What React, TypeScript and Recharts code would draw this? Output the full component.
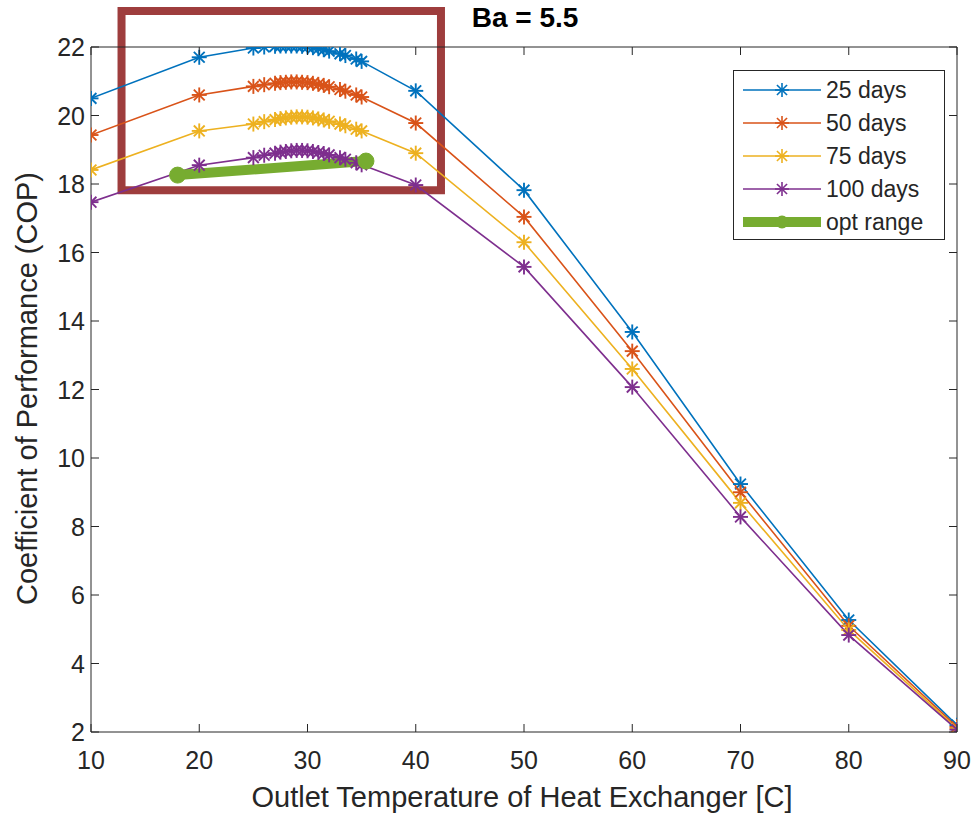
import React from 'react';
import { LineChart, Line, XAxis, YAxis, ReferenceArea, Legend } from 'recharts';

// ---------- data ----------
const temps = [10, 20, 25, 26, 27, 27.5, 28, 28.5, 29, 29.5, 30, 30.5, 31, 31.5, 32, 33, 33.5, 34.5, 35, 40, 50, 60, 70, 80, 90];
const cop25 = [20.5, 21.7, 21.97, 22.0, 22.02, 22.03, 22.03, 22.03, 22.03, 22.02, 22.0, 21.98, 21.95, 21.92, 21.88, 21.8, 21.75, 21.65, 21.58, 20.72, 17.82, 13.68, 9.24, 5.27, 2.2];
const cop50 = [19.43, 20.6, 20.85, 20.9, 20.94, 20.96, 20.97, 20.98, 20.98, 20.97, 20.96, 20.94, 20.91, 20.88, 20.84, 20.76, 20.71, 20.6, 20.54, 19.78, 17.04, 13.12, 9.0, 5.1, 2.15];
const cop75 = [18.41, 19.55, 19.75, 19.82, 19.88, 19.91, 19.93, 19.95, 19.96, 19.96, 19.95, 19.93, 19.9, 19.87, 19.83, 19.75, 19.7, 19.6, 19.55, 18.9, 16.3, 12.6, 8.69, 4.98, 2.1];
const cop100 = [17.47, 18.55, 18.77, 18.84, 18.9, 18.93, 18.95, 18.97, 18.98, 18.98, 18.97, 18.95, 18.92, 18.89, 18.85, 18.77, 18.72, 18.62, 18.56, 17.97, 15.58, 12.07, 8.28, 4.83, 2.07];
const optTemps = [18, 35.4];
const optCop = [18.26, 18.67];
const xTicks = [10, 20, 30, 40, 50, 60, 70, 80, 90];
const yTicks = [2, 4, 6, 8, 10, 12, 14, 16, 18, 20, 22];
const seriesNames = ['25 days', '50 days', '75 days', '100 days', 'opt range'];
const seriesKeys = ['c25', 'c50', 'c75', 'c100'];
const highlightBox = { x1: 12.82, x2: 42.33, y1: 17.82, y2: 23.05 };
const titleText = 'Ba = 5.5';
const xLabel = 'Outlet Temperature of Heat Exchanger [C]';
const yLabel = 'Coefficient of Performance (COP)';

const rows = temps.map((t, i) => ({ t, c25: cop25[i], c50: cop50[i], c75: cop75[i], c100: cop100[i] }));
const optRows = optTemps.map((t, i) => ({ t, opt: optCop[i] }));

// ---------- style ----------
const W = 977;
const H = 823;
const PLOT = { left: 91, right: 957, top: 47, bottom: 732 };
const Y_W = 60;
const X_H = 30;
const M = { top: PLOT.top - 1, right: W - PLOT.right - 1, bottom: H - PLOT.bottom - X_H, left: PLOT.left - Y_W };
const INK = '#262626';
const FONT = '"Liberation Sans", Arial, Helvetica, sans-serif';
const COLORS = ['#0072BD', '#D95319', '#EDB120', '#7E2F8E', '#77AC30'];
const BOX_COLOR = '#9E3D3D';
const TICK_FS = 25;
const LABEL_FS = 29;
const TITLE_FS = 28;
const TICK_LEN = 8;

function Asterisk({ cx, cy, color, r = 7.5, sw = 1.9 }: any) {
  const d = r * 0.72;
  return (
    <g stroke={color} strokeWidth={sw}>
      <line x1={cx - r} y1={cy} x2={cx + r} y2={cy} />
      <line x1={cx} y1={cy - r} x2={cx} y2={cy + r} />
      <line x1={cx - d} y1={cy - d} x2={cx + d} y2={cy + d} />
      <line x1={cx - d} y1={cy + d} x2={cx + d} y2={cy - d} />
    </g>
  );
}

const makeDot = (color: string, name: string) => (p: any) => {
  if (p.cx == null || p.cy == null) return <g key={`${name}-${p.index}`} />;
  return <Asterisk key={`${name}-${p.index}`} cx={p.cx} cy={p.cy} color={color} />;
};

const optDot = (p: any) => (
  <circle key={`opt-${p.index}`} cx={p.cx} cy={p.cy} r={8} fill={COLORS[4]} stroke={COLORS[4]} />
);

const LeftTick = (p: any) => (
  <g>
    <line x1={p.x} x2={p.x + TICK_LEN} y1={p.y} y2={p.y} stroke={INK} strokeWidth={1} />
    <text x={p.x - 6} y={p.y} dy="0.36em" textAnchor="end" fontSize={TICK_FS} fill={INK} fontFamily={FONT}>
      {p.payload.value}
    </text>
  </g>
);
const RightTick = (p: any) => (
  <line x1={p.x - TICK_LEN} x2={p.x} y1={p.y} y2={p.y} stroke={INK} strokeWidth={1} />
);
const BottomTick = (p: any) => (
  <g>
    <line x1={p.x} x2={p.x} y1={p.y - TICK_LEN} y2={p.y} stroke={INK} strokeWidth={1} />
    <text x={p.x} y={p.y + 28} dy="0.36em" textAnchor="middle" fontSize={TICK_FS} fill={INK} fontFamily={FONT}>
      {p.payload.value}
    </text>
  </g>
);
const TopTick = (p: any) => (
  <line x1={p.x} x2={p.x} y1={p.y} y2={p.y + TICK_LEN} stroke={INK} strokeWidth={1} />
);

const LegendBox = () => (
  <div
    style={{
      width: 212,
      height: 170,
      border: `1px solid ${INK}`,
      background: '#fff',
      boxSizing: 'border-box',
    }}
  >
    <svg width={210} height={168} style={{ display: 'block' }}>
      {seriesNames.map((n, i) => {
        const y = 19 + i * 33;
        const c = COLORS[i];
        const isOpt = i === 4;
        return (
          <g key={n}>
            <line x1={9} x2={87} y1={y} y2={y} stroke={c} strokeWidth={isOpt ? 10 : 1.5} />
            {isOpt ? <circle cx={48} cy={y} r={6.5} fill={c} /> : <Asterisk cx={48} cy={y} color={c} r={7} sw={1.6} />}
            <text x={92} y={y} dy="0.36em" fontSize={23} fill={INK} fontFamily={FONT}>
              {n}
            </text>
          </g>
        );
      })}
    </svg>
  </div>
);

export default function App() {
  const plotCx = (PLOT.left + PLOT.right) / 2;
  const plotCy = (PLOT.top + PLOT.bottom) / 2;
  return (
    <div style={{ position: 'absolute', left: 0, top: 0, width: W, height: H, background: '#fff', fontFamily: FONT }}>
      <LineChart width={W} height={H} data={rows} margin={M}>
        <XAxis
          dataKey="t"
          type="number"
          domain={[10, 90]}
          ticks={xTicks}
          allowDataOverflow
          height={X_H}
          tickSize={0}
          tickMargin={0}
          tick={BottomTick}
          axisLine={{ stroke: INK, strokeWidth: 1 }}
          tickLine={false}
          interval={0}
          label={{
            content: () => (
              <text x={plotCx - 2} y={H - 16} textAnchor="middle" fontSize={LABEL_FS} fill={INK} fontFamily={FONT}>
                {xLabel}
              </text>
            ),
          }}
        />
        <XAxis
          xAxisId="top"
          dataKey="t"
          type="number"
          orientation="top"
          domain={[10, 90]}
          ticks={xTicks}
          allowDataOverflow
          height={1}
          tickSize={0}
          tickMargin={0}
          tick={TopTick}
          axisLine={{ stroke: INK, strokeWidth: 1 }}
          tickLine={false}
          interval={0}
          label={{
            content: () => (
              <text x={plotCx + 1} y={27} textAnchor="middle" fontSize={TITLE_FS} fontWeight="bold" fill="#000" fontFamily={FONT}>
                {titleText}
              </text>
            ),
          }}
        />
        <YAxis
          type="number"
          domain={[2, 22]}
          ticks={yTicks}
          allowDataOverflow
          width={Y_W}
          tickSize={0}
          tickMargin={0}
          tick={LeftTick}
          axisLine={{ stroke: INK, strokeWidth: 1 }}
          tickLine={false}
          interval={0}
          label={{
            content: () => (
              <text
                x={0}
                y={0}
                transform={`translate(37, ${plotCy - 1}) rotate(-90)`}
                textAnchor="middle"
                fontSize={LABEL_FS}
                fill={INK}
                fontFamily={FONT}
              >
                {yLabel}
              </text>
            ),
          }}
        />
        <YAxis
          yAxisId="right"
          orientation="right"
          type="number"
          domain={[2, 22]}
          ticks={yTicks}
          allowDataOverflow
          width={1}
          tickSize={0}
          tickMargin={0}
          tick={RightTick}
          axisLine={{ stroke: INK, strokeWidth: 1 }}
          tickLine={false}
          interval={0}
        />
        {seriesKeys.map((k, i) => (
          <Line
            key={k}
            dataKey={k}
            name={seriesNames[i]}
            stroke={COLORS[i]}
            strokeWidth={1.6}
            dot={makeDot(COLORS[i], k)}
            activeDot={false}
            isAnimationActive={false}
          />
        ))}
        <Line
          data={optRows}
          dataKey="opt"
          name={seriesNames[4]}
          stroke={COLORS[4]}
          strokeWidth={10}
          dot={optDot}
          activeDot={false}
          isAnimationActive={false}
        />
        <ReferenceArea
          x1={highlightBox.x1}
          x2={highlightBox.x2}
          y1={highlightBox.y1}
          y2={highlightBox.y2}
          fill="none"
          fillOpacity={0}
          stroke={BOX_COLOR}
          strokeWidth={8}
          ifOverflow="visible"
        />
        <Legend
          layout="horizontal"
          verticalAlign="middle"
          align="center"
          content={() => <LegendBox />}
          wrapperStyle={{ left: 733, top: 70, width: 212, height: 170 }}
        />
      </LineChart>
    </div>
  );
}
